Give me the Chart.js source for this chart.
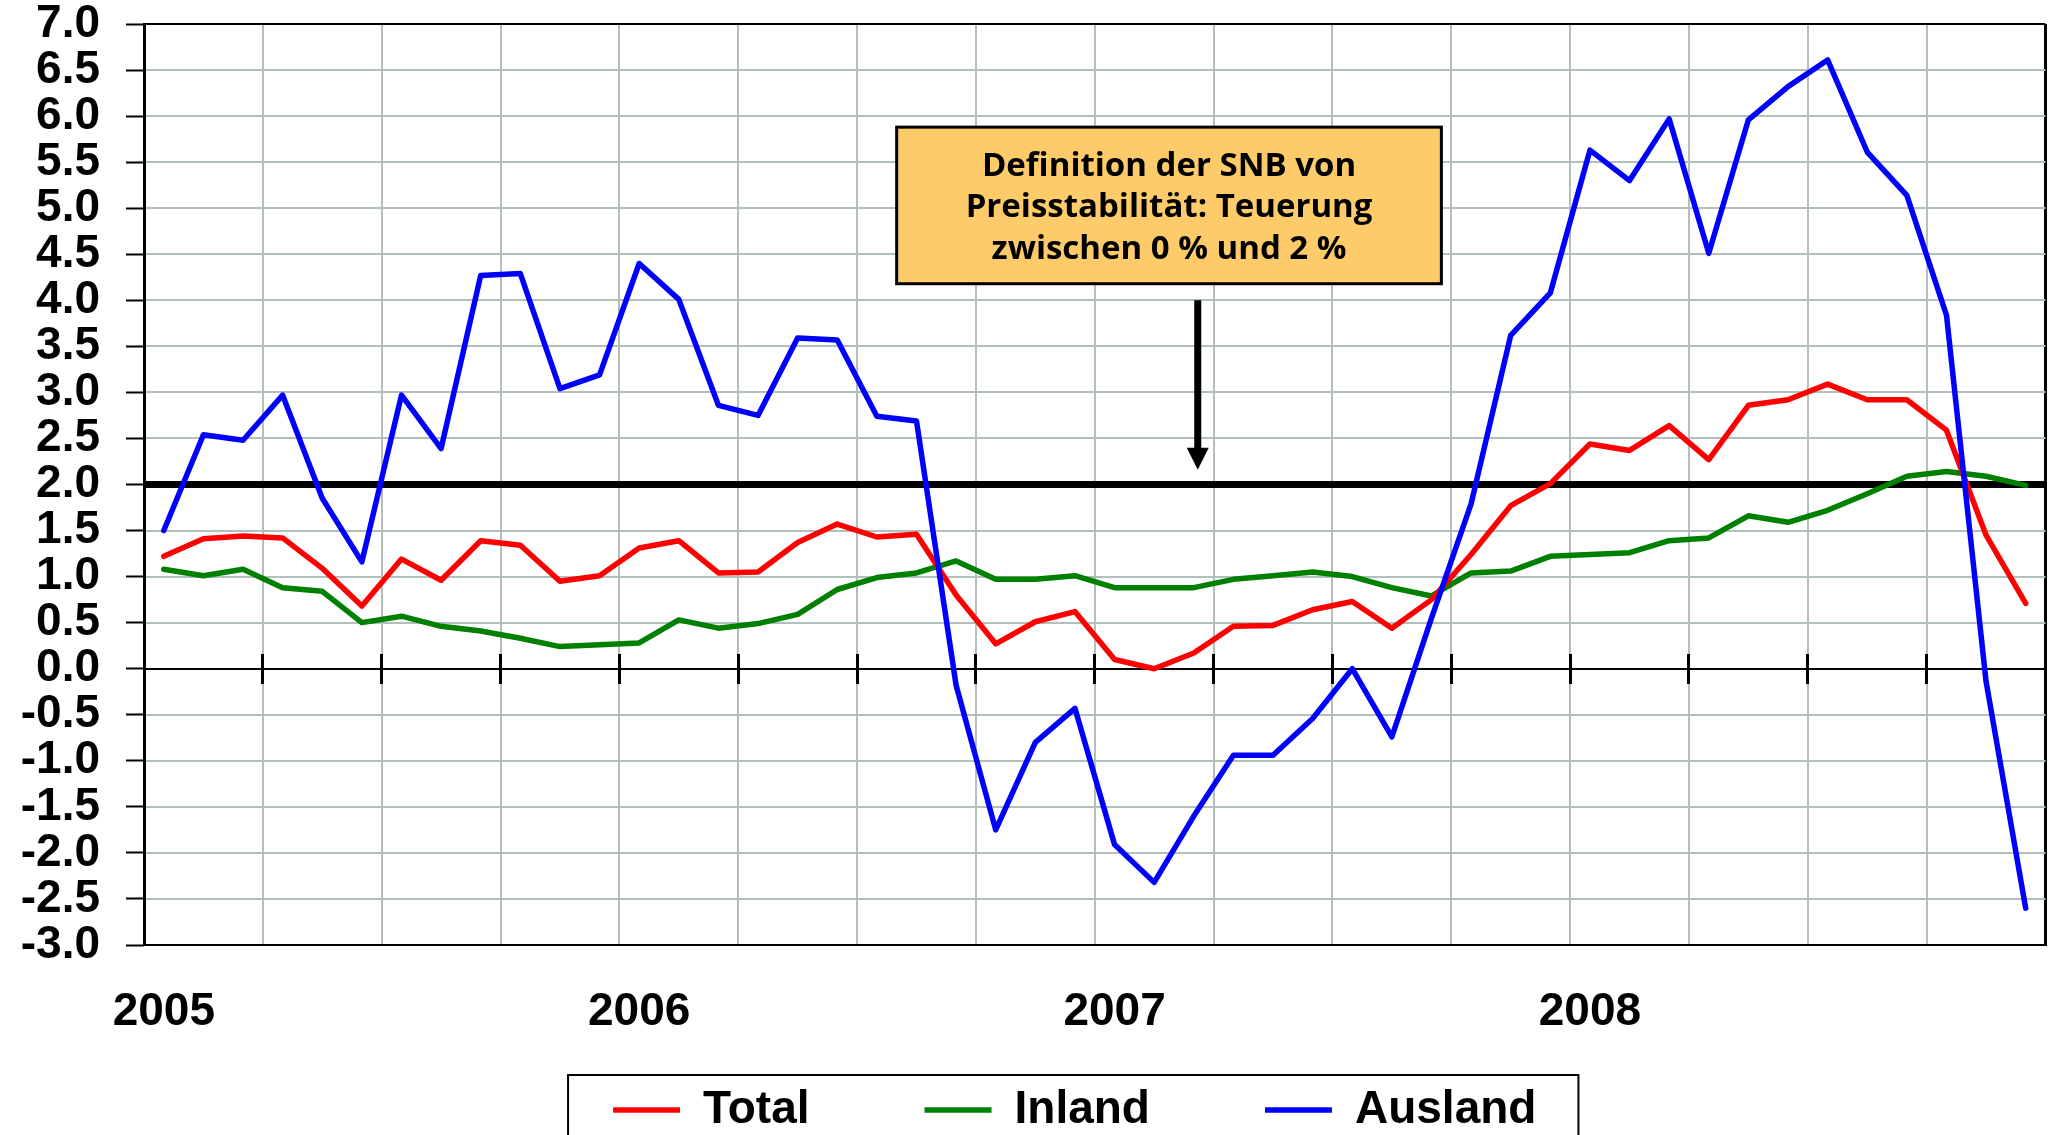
<!DOCTYPE html>
<html>
<head>
<meta charset="utf-8">
<title>Teuerung Total / Inland / Ausland</title>
<script src="https://cdn.jsdelivr.net/npm/chart.js@4.4.1/dist/chart.umd.min.js"></script>
<style>
  html, body { margin: 0; padding: 0; background: #ffffff; }
  #chart { display: block; }
</style>
</head>
<body>
<canvas id="chart" width="2054" height="1135"></canvas>
<script>
const years = ['2005', '2006', '2007', '2008'];
const months = [];
years.forEach(yr => {
    for (let m = 1; m <= 12; m++) months.push(yr + '-' + String(m).padStart(2, '0'));
});

const total = [
    1.22, 1.41, 1.44, 1.42, 1.09, 0.68, 1.19, 0.96, 1.39, 1.34, 0.95, 1.01,
    1.31, 1.39, 1.04, 1.05, 1.37, 1.57, 1.43, 1.46, 0.80, 0.27, 0.51, 0.62,
    0.10, 0.00, 0.17, 0.46, 0.47, 0.64, 0.73, 0.44, 0.75, 1.24, 1.77, 2.01,
    2.44, 2.37, 2.64, 2.27, 2.86, 2.92, 3.09, 2.92, 2.92, 2.59, 1.45, 0.71
];
const inland = [
    1.08, 1.01, 1.08, 0.88, 0.84, 0.50, 0.57, 0.46, 0.41, 0.33, 0.24, 0.26,
    0.28, 0.53, 0.44, 0.49, 0.59, 0.86, 0.99, 1.04, 1.17, 0.97, 0.97, 1.01,
    0.88, 0.88, 0.88, 0.97, 1.01, 1.05, 1.00, 0.88, 0.79, 1.04, 1.06, 1.22,
    1.24, 1.26, 1.39, 1.42, 1.66, 1.59, 1.72, 1.90, 2.09, 2.14, 2.09, 1.99
];
const ausland = [
    1.50, 2.54, 2.48, 2.97, 1.85, 1.16, 2.97, 2.39, 4.27, 4.29, 3.04, 3.19,
    4.40, 4.01, 2.86, 2.75, 3.59, 3.57, 2.74, 2.69, -0.18, -1.75, -0.80, -0.43,
    -1.91, -2.32, -1.60, -0.94, -0.94, -0.54, 0.00, -0.74, 0.55, 1.79, 3.62, 4.08,
    5.63, 5.30, 5.97, 4.51, 5.96, 6.32, 6.61, 5.61, 5.14, 3.84, -0.14, -2.60
];

const noteLines = [
    'Definition der SNB von',
    'Preisstabilität: Teuerung',
    'zwischen 0 % und 2 %'
];
// box and arrow placed in data units (category index, percent)
const noteBox = { from: 18.5, to: 32.25, top: 5.88, bottom: 4.18 };
const noteArrow = { at: 26.1, from: 4.0, to: 2.16 };

const gridGray = '#B3BFBA';
const clear = 'rgba(0,0,0,0)';
const PAD_R = 8.5;
const LEGEND_PAD = 115;
const LEGEND_SHIFT = 52;
const LEGEND_DY = 8;

Chart.defaults.font.family = '"Liberation Sans", Arial, sans-serif';
Chart.defaults.color = '#000';

const tickFont = { size: 46, weight: 'bold', lineHeight: 1 };

const notePlugin = {
    id: 'snbNote',
    afterDraw(chart) {
        const { ctx } = chart;
        const x = chart.scales.x;
        const y = chart.scales.y;
        const l = x.getPixelForValue(noteBox.from);
        const r = x.getPixelForValue(noteBox.to);
        const t = y.getPixelForValue(noteBox.top);
        const b = y.getPixelForValue(noteBox.bottom);
        ctx.save();
        ctx.fillStyle = '#FDCB69';
        ctx.fillRect(l, t, r - l, b - t);
        ctx.lineWidth = 3;
        ctx.strokeStyle = '#000';
        ctx.strokeRect(l, t, r - l, b - t);

        ctx.fillStyle = '#000';
        ctx.font = 'bold 33px "Open Sans", "Noto Sans", sans-serif';
        ctx.textAlign = 'center';
        ctx.textBaseline = 'alphabetic';
        const cx = (l + r) / 2;
        const cy = (t + b) / 2;
        noteLines.forEach((s, k) => ctx.fillText(s, cx, cy + 12 + (k - 1) * 41.8));

        const ax = x.getPixelForValue(noteArrow.at);
        const a0 = y.getPixelForValue(noteArrow.from);
        const a1 = y.getPixelForValue(noteArrow.to);
        ctx.lineWidth = 7;
        ctx.beginPath();
        ctx.moveTo(ax, a0);
        ctx.lineTo(ax, a1 - 18);
        ctx.stroke();
        ctx.beginPath();
        ctx.moveTo(ax - 11, a1 - 22);
        ctx.lineTo(ax + 11, a1 - 22);
        ctx.lineTo(ax, a1);
        ctx.closePath();
        ctx.fill();
        ctx.restore();
    }
};

// move the legend row under the plot like in the original
const legendShift = {
    id: 'legendShift',
    afterUpdate(chart) {
        const lg = chart.legend;
        if (!lg || !lg.legendHitBoxes) return;
        lg.left += LEGEND_SHIFT;
        lg.right += LEGEND_SHIFT;
        lg.top += LEGEND_DY;
        lg.bottom += LEGEND_DY;
        lg.legendHitBoxes.forEach(hb => {
            hb.left += LEGEND_SHIFT;
            hb.top += LEGEND_DY;
        });
    }
};

const legendFrame = {
    id: 'legendFrame',
    afterDraw(chart) {
        const hb = chart.legend && chart.legend.legendHitBoxes;
        if (!hb || !hb.length) return;
        const first = hb[0];
        const last = hb[hb.length - 1];
        const cy = first.top + first.height / 2;
        const left = first.left - 45;
        const right = last.left + last.width + 42;
        const { ctx } = chart;
        ctx.save();
        ctx.lineWidth = 2;
        ctx.strokeStyle = '#000';
        ctx.strokeRect(left, cy - 35, right - left, chart.height);
        ctx.restore();
    }
};

const xLineColor = c => {
    if (c.index === undefined || c.index === 0) return '#000';
    return c.index % 3 === 0 ? gridGray : clear;
};
const zeroTickColor = c => {
    if (c.index === undefined) return '#000';
    return c.index % 3 === 0 && c.index > 0 ? '#000' : clear;
};

const zeroAxis = len => ({
    type: 'category',
    axis: 'x',
    position: { y: 0 },
    offset: true,
    ticks: { display: false, autoSkip: false },
    grid: {
        offset: true,
        drawOnChartArea: false,
        drawTicks: true,
        tickLength: len,
        tickWidth: 3,
        tickColor: zeroTickColor
    },
    border: { display: false }
});

const ctx = document.getElementById('chart');

new Chart(ctx, {
    type: 'line',
    data: {
        labels: months,
        datasets: [
            {
                label: 'Total',
                data: total,
                borderColor: '#FF0000',
                backgroundColor: '#FF0000',
                borderWidth: 5.5,
                pointRadius: 0,
                borderCapStyle: 'round',
                borderJoinStyle: 'round',
                order: 1
            },
            {
                label: 'Inland',
                data: inland,
                borderColor: '#008000',
                backgroundColor: '#008000',
                borderWidth: 5.5,
                pointRadius: 0,
                borderCapStyle: 'round',
                borderJoinStyle: 'round',
                order: 2
            },
            {
                label: 'Ausland',
                data: ausland,
                borderColor: '#0000FF',
                backgroundColor: '#0000FF',
                borderWidth: 5.5,
                pointRadius: 0,
                borderCapStyle: 'round',
                borderJoinStyle: 'round',
                order: 0
            }
        ]
    },
    options: {
        responsive: false,
        animation: false,
        devicePixelRatio: 1,
        events: [],
        layout: { padding: { left: 0, right: PAD_R, top: 24, bottom: 0 } },
        plugins: {
            tooltip: { enabled: false },
            legend: {
                position: 'bottom',
                labels: {
                    usePointStyle: true,
                    pointStyle: 'line',
                    pointStyleWidth: 67,
                    padding: LEGEND_PAD,
                    color: '#000',
                    font: tickFont,
                    sort: (a, b) => a.datasetIndex - b.datasetIndex
                }
            }
        },
        scales: {
            x: {
                offset: true,
                ticks: { display: false, autoSkip: false },
                grid: {
                    offset: true,
                    drawTicks: false,
                    color: xLineColor,
                    lineWidth: c => (c.index === undefined || c.index === 0 ? 3 : 2)
                },
                border: { color: '#000', width: 2 },
                afterFit: s => {
                    const lh = s.chart.legend ? s.chart.legend.height : 171;
                    s.height = 190 - lh;
                }
            },
            xYears: {
                type: 'category',
                axis: 'x',
                position: { y: -3 },
                offset: true,
                ticks: {
                    autoSkip: false,
                    maxRotation: 0,
                    padding: 0,
                    color: '#000',
                    font: tickFont,
                    callback: (v, i) => (i % 12 === 0 ? years[i / 12] : '')
                },
                grid: {
                    drawOnChartArea: false,
                    drawTicks: true,
                    tickLength: 44.5,
                    tickColor: clear
                },
                border: { display: false }
            },
            x0down: zeroAxis(15),
            x0up: zeroAxis(-15),
            y: {
                min: -3,
                max: 7,
                ticks: {
                    stepSize: 0.5,
                    autoSkip: false,
                    padding: 0,
                    color: '#000',
                    font: tickFont,
                    callback: v => Number(v).toFixed(1)
                },
                grid: {
                    color: c => {
                        const v = c.tick ? c.tick.value : null;
                        if (v === 2 || v === 0 || v === 7 || v === -3) return '#000';
                        return gridGray;
                    },
                    lineWidth: c => (c.tick && c.tick.value === 2 ? 7 : 2),
                    tickColor: clear,
                    tickLength: 44
                },
                border: { color: '#000', width: 3 },
                afterFit: s => { s.width = 144; }
            },
            yTicks: {
                type: 'linear',
                axis: 'y',
                position: { x: -0.5 },
                min: -3,
                max: 7,
                ticks: { display: false, stepSize: 0.5 },
                grid: {
                    drawOnChartArea: false,
                    drawTicks: true,
                    tickLength: 18,
                    tickWidth: 2,
                    tickColor: '#000'
                },
                border: { display: false }
            }
        }
    },
    plugins: [legendShift, notePlugin, legendFrame]
});
</script>
</body>
</html>
